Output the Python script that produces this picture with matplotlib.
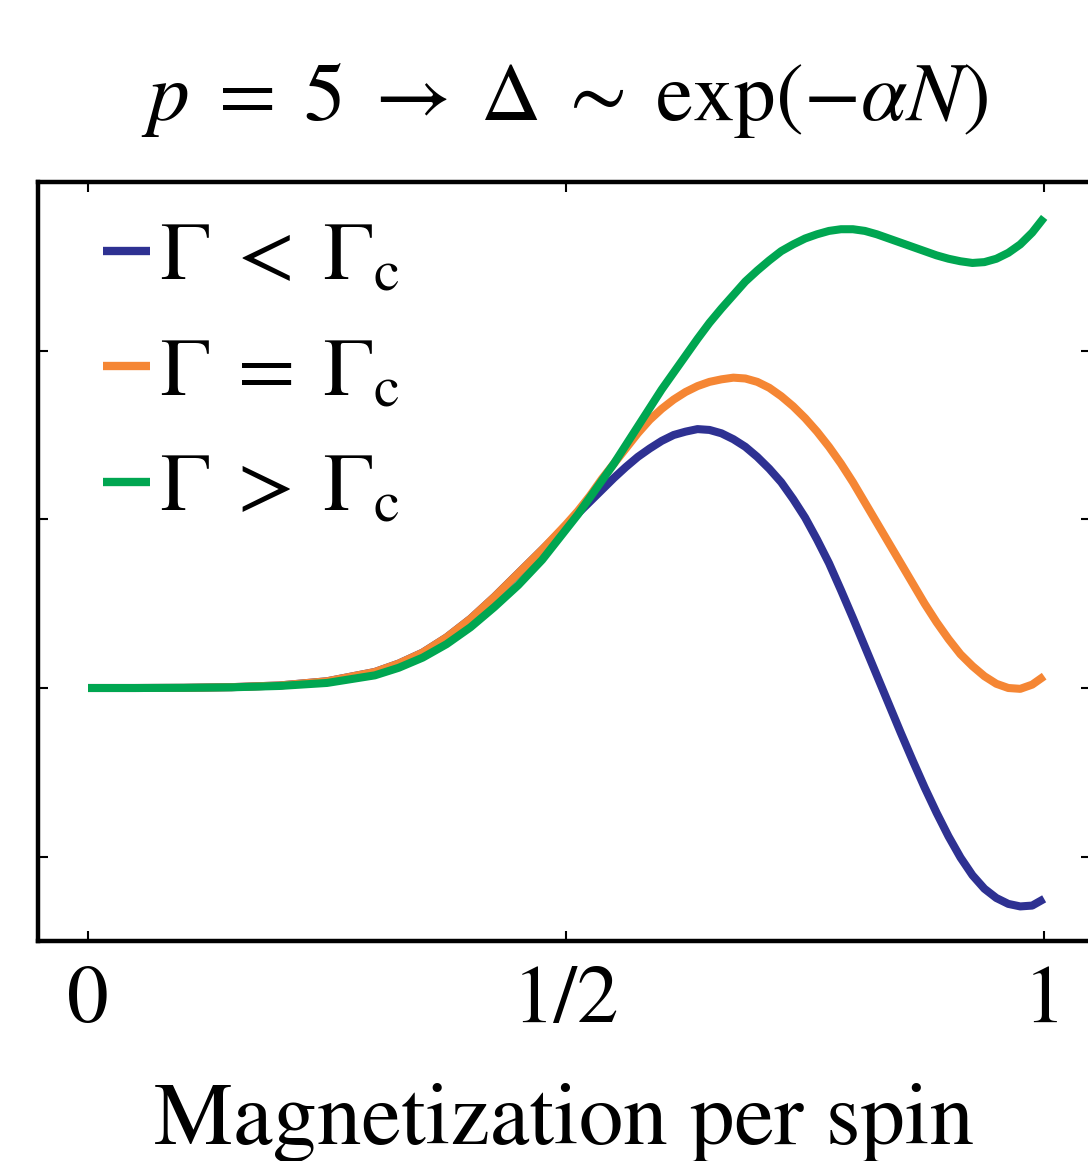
import matplotlib
matplotlib.use("Agg")
import matplotlib.pyplot as plt

plt.rcParams['mathtext.fontset'] = 'stix'
plt.rcParams['font.family'] = ['STIXGeneral', 'DejaVu Serif']

# Magnetization per spin
m = [0.0, 0.05, 0.1, 0.15, 0.2, 0.25, 0.3, 0.325, 0.35, 0.375, 0.4, 0.425,
     0.45, 0.475,
     0.5, 0.5125, 0.525, 0.5375, 0.55, 0.5625, 0.575, 0.5875, 0.6, 0.6125,
     0.625, 0.6375, 0.65, 0.6625, 0.675, 0.6875, 0.7, 0.7125, 0.725, 0.7375,
     0.75, 0.7625, 0.775, 0.7875, 0.8, 0.8125, 0.825, 0.8375, 0.85, 0.8625,
     0.875, 0.8875, 0.9, 0.9125, 0.925, 0.9375, 0.95, 0.9625, 0.975, 0.9875,
     1.0]

energy_below = [0.0, 0.0, 0.001, 0.005, 0.015, 0.04, 0.095, 0.145, 0.21, 0.30,
                0.41, 0.54, 0.68, 0.82,
                0.96, 1.035, 1.105, 1.175, 1.245, 1.31, 1.37, 1.42, 1.465,
                1.50, 1.52, 1.535, 1.53, 1.51, 1.475, 1.43, 1.37, 1.30, 1.22,
                1.12, 1.01, 0.88, 0.74, 0.58, 0.415, 0.245, 0.075, -0.095,
                -0.265, -0.43, -0.59, -0.74, -0.88, -1.005, -1.11, -1.19,
                -1.245, -1.28, -1.295, -1.29, -1.25]

energy_crit = [0.0, 0.0, 0.001, 0.005, 0.015, 0.04, 0.095, 0.145, 0.21, 0.30,
               0.41, 0.54, 0.68, 0.82,
               0.97, 1.05, 1.14, 1.24, 1.33, 1.42, 1.51, 1.59, 1.655, 1.71,
               1.755, 1.79, 1.815, 1.83, 1.84, 1.835, 1.815, 1.78, 1.73, 1.67,
               1.60, 1.52, 1.43, 1.33, 1.22, 1.10, 0.98, 0.86, 0.74, 0.62,
               0.50, 0.39, 0.29, 0.20, 0.13, 0.07, 0.025, 0.0, -0.005, 0.02,
               0.07]

energy_above = [0.0, 0.0, 0.001, 0.004, 0.012, 0.03, 0.075, 0.12, 0.18, 0.26,
                0.36, 0.48, 0.61, 0.76,
                0.94, 1.03, 1.13, 1.23, 1.33, 1.44, 1.55, 1.66, 1.77, 1.87,
                1.97, 2.07, 2.165, 2.25, 2.33, 2.41, 2.475, 2.535, 2.59, 2.63,
                2.665, 2.69, 2.71, 2.72, 2.72, 2.71, 2.69, 2.665, 2.64, 2.615,
                2.59, 2.565, 2.545, 2.53, 2.52, 2.525, 2.545, 2.58, 2.63, 2.70,
                2.79]

labels = [r'$\Gamma\;<\;\Gamma_{\mathrm{c}}$',
          r'$\Gamma\;=\;\Gamma_{\mathrm{c}}$',
          r'$\Gamma\;>\;\Gamma_{\mathrm{c}}$']
colors = ['#2E3192', '#F58634', '#00A651']

xticks = [0, 0.5, 1]
xticklabels = ['0', '1/2', '1']
yticks = [-1, 0, 1, 2]

W, H = 1088, 1161
fig = plt.figure(figsize=(W / 100, H / 100), dpi=100)
ax = fig.add_axes([38 / W, 1 - 941 / H, (1091 - 38) / W, (941 - 182) / H])

for ys, c, lab in zip([energy_below, energy_crit, energy_above], colors, labels):
    ax.plot(m, ys, color=c, lw=5.8, label=lab, solid_capstyle='butt',
            solid_joinstyle='round')

ax.set_xlim(-0.0523, 1.049)
ax.set_ylim(-1.5, 3.0)
ax.set_xticks(xticks)
ax.set_xticklabels(xticklabels, fontsize=60)
ax.set_yticks(yticks)
ax.set_yticklabels([])
ax.tick_params(direction='in', length=7, width=1.5, top=True, right=True,
               pad=18)
for s in ax.spines.values():
    s.set_linewidth(3.2)

ax.set_xlabel('Magnetization per spin', fontsize=64, labelpad=31)
ax.set_title(r'$p\;=\;5\;\rightarrow\;\Delta\;\sim\;\exp(-\alpha N)$',
             fontsize=60, pad=45)

leg = ax.legend(loc='upper left', bbox_to_anchor=(0.062, 0.948), frameon=False,
                fontsize=60, handlelength=0.56, handletextpad=0.12,
                labelspacing=0.47, borderaxespad=0, borderpad=0)
for h in leg.get_lines():
    h.set_linewidth(6.0)

fig.savefig('out.png', dpi=100)
